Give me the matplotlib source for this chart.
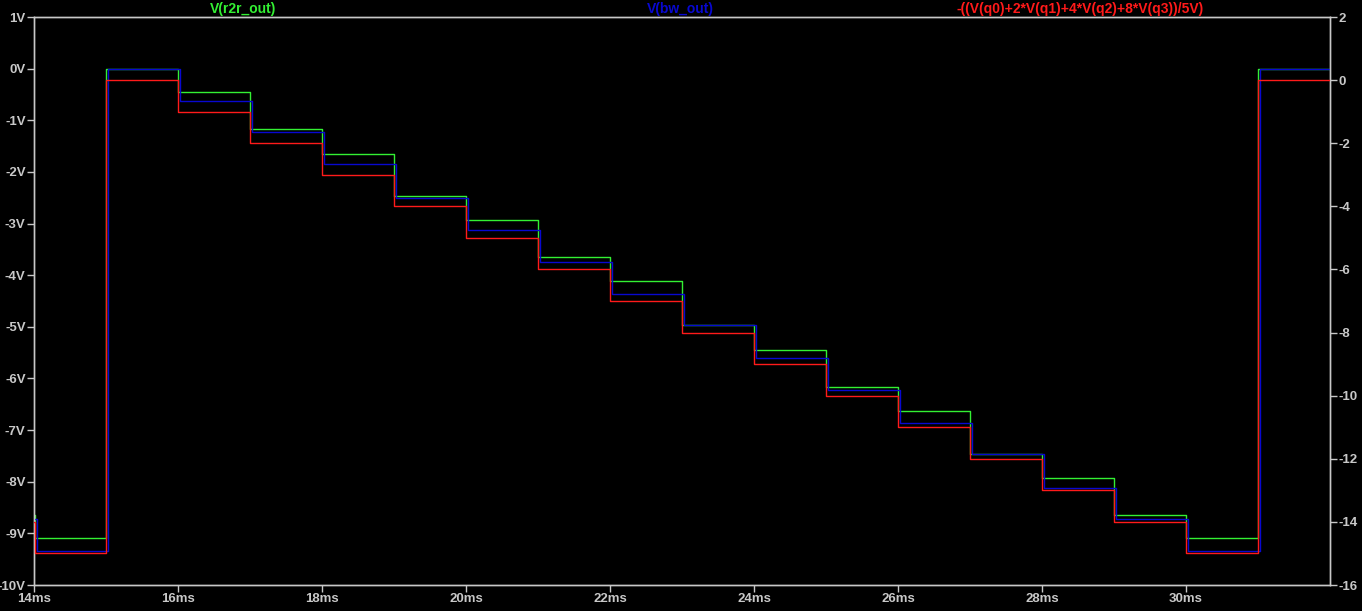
import numpy as np
import matplotlib
matplotlib.use("Agg")
import matplotlib.pyplot as plt

# step boundaries in ms (first short segment = tail of the previous step)
t_edges = [14.0, 14.02] + list(range(15, 33))

# V(r2r_out), volts, one value per segment
r2r_out = [-8.64, -9.09, -0.01, -0.46, -1.16, -1.65, -2.47, -2.93, -3.64, -4.11,
           -4.97, -5.45, -6.16, -6.63, -7.47, -7.92, -8.64, -9.09, -0.01]
# V(bw_out), volts
bw_out = [-8.73, -9.35, 0.0, -0.62, -1.23, -1.85, -2.51, -3.12, -3.74, -4.36,
          -4.97, -5.61, -6.23, -6.86, -7.47, -8.13, -8.73, -9.35, 0.0]
# -((V(q0)+2*V(q1)+4*V(q2)+8*V(q3))/5V), right axis
digital = [-14, -15, 0, -1, -2, -3, -4, -5, -6, -7,
           -8, -9, -10, -11, -12, -13, -14, -15, 0]

x_ticks = list(range(14, 31, 2))
left_ticks = list(range(1, -11, -1))
right_ticks = list(range(2, -17, -2))

GREEN = "#33f033"
BLUE = "#0808d0"
RED = "#ff1a1a"
GRID = "#c8c8c8"
BG = "black"


def steps(edges, levels):
    x = np.array(edges, dtype=float)
    y = np.array(list(levels) + [levels[-1]], dtype=float)
    return x, y


fig = plt.figure(figsize=(13.62, 6.11), dpi=100, facecolor=BG)
ax = fig.add_axes([34 / 1362, 26 / 611, 1296 / 1362, 568 / 611])
ax.set_facecolor(BG)
ax2 = ax.twinx()

xg, yg = steps(t_edges, r2r_out)
xb, yb = steps(t_edges, bw_out)
xr, yr = steps(t_edges, digital)
# the bw_out edges lag the others slightly
xb = xb + np.r_[0, np.full(len(xb) - 2, 0.025), 0]

ax.plot(xg, yg, drawstyle="steps-post", color=GREEN, lw=1.0, zorder=2)
ax.plot(xb, yb, drawstyle="steps-post", color=BLUE, lw=1.0, zorder=3)
ax2.plot(xr, yr, drawstyle="steps-post", color=RED, lw=1.0, zorder=4)

ax.set_xlim(14, 32)
ax.set_ylim(-10, 1)
ax2.set_ylim(-16, 2)

ax.set_xticks(x_ticks)
ax.set_xticklabels([f"{t}ms" for t in x_ticks])
ax.set_yticks(left_ticks)
ax.set_yticklabels([f"{v}V" for v in left_ticks])
ax2.set_yticks(right_ticks)
ax2.set_yticklabels([str(v) for v in right_ticks])

font = dict(family="Liberation Sans", weight="bold", size=9.5)
for a in (ax, ax2):
    for s in a.spines.values():
        s.set_color(GRID)
        s.set_linewidth(1.0)
    a.tick_params(colors=GRID, length=5, width=1.0, pad=1)
    for lab in a.get_xticklabels() + a.get_yticklabels():
        lab.set_fontfamily(font["family"])
        lab.set_fontweight(font["weight"])
        lab.set_fontsize(font["size"])
        lab.set_color(GRID)
ax2.set_zorder(ax.zorder + 1)
ax2.patch.set_visible(False)

# trace names along the top
title_font = dict(family="Liberation Sans", weight="bold", size=10)
fig.text(243 / 1362, 1 - 9 / 611, "V(r2r_out)", color=GREEN, ha="center", va="center", **title_font)
fig.text(680 / 1362, 1 - 9 / 611, "V(bw_out)", color=BLUE, ha="center", va="center", **title_font)
fig.text(1080 / 1362, 1 - 9 / 611, "-((V(q0)+2*V(q1)+4*V(q2)+8*V(q3))/5V)",
         color=RED, ha="center", va="center", **title_font)

fig.savefig("out.png", dpi=100, facecolor=BG)
